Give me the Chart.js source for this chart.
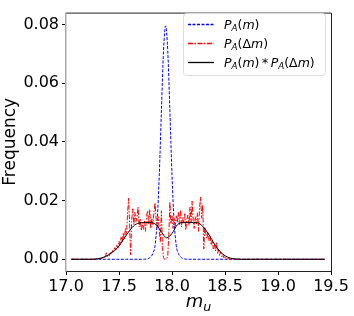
<!DOCTYPE html>
<html>
<head>
<meta charset="utf-8">
<script src="https://cdn.jsdelivr.net/npm/chart.js@4"></script>
<style>
  body { margin: 0; background: #fff; }
</style>
</head>
<body>
<canvas id="freqChart" width="354" height="316"></canvas>
<script>
// tick labels
const xTicks = [17.0, 17.5, 18.0, 18.5, 19.0, 19.5];
const yTicks = [0.00, 0.02, 0.04, 0.06, 0.08];

const seriesLabels = ['P_A(m)', 'P_A(Δm)', 'P_A(m)*P_A(Δm)'];
const seriesColors = ['#0000ff', '#ff0000', '#000000'];

// P_A(m)
const blueX = [17.05, 17.74, 17.76, 17.78, 17.80, 17.82, 17.84, 17.86, 17.88, 17.90, 17.92, 17.94,
  17.96, 17.98, 18.00, 18.02, 18.04, 18.06, 18.08, 18.10, 18.12, 18.14, 19.44];
const blueY = [0, 0, 0.0001, 0.0003, 0.0008, 0.0020, 0.0047, 0.0130, 0.0287, 0.0505, 0.0710, 0.0795,
  0.0710, 0.0505, 0.0287, 0.0130, 0.0047, 0.0020, 0.0008, 0.0003, 0.0001, 0, 0];

// P_A(dm), sampled every 0.01 from 17.30 to 18.60
const redStart = 17.30;
const redStep = 0.01;
const redY = [
  0.0000, 0.0003, 0.0001, 0.0004, 0.0002, 0.0006, 0.0010, 0.0005, 0.0022, 0.0008,
  0.0015, 0.0012, 0.0025, 0.0018, 0.0030, 0.0026, 0.0042, 0.0031, 0.0050, 0.0038,
  0.0062, 0.0048, 0.0075, 0.0058, 0.0090, 0.0068, 0.0105, 0.0082, 0.0150, 0.0208,
  0.0120, 0.0015, 0.0135, 0.0172, 0.0118, 0.0160, 0.0128, 0.0145, 0.0178, 0.0110,
  0.0138, 0.0098, 0.0125, 0.0102, 0.0130, 0.0095, 0.0148, 0.0165, 0.0120, 0.0170,
  0.0105, 0.0140, 0.0118, 0.0160, 0.0192, 0.0135, 0.0108, 0.0145, 0.0095, 0.0060,
  0.0165, 0.0040, 0.0005, 0.0000, 0.0000, 0.0003, 0.0010, 0.0085, 0.0195, 0.0120,
  0.0150, 0.0105, 0.0138, 0.0112, 0.0148, 0.0125, 0.0160, 0.0118, 0.0168, 0.0110,
  0.0142, 0.0125, 0.0155, 0.0100, 0.0135, 0.0150, 0.0115, 0.0178, 0.0125, 0.0198,
  0.0130, 0.0105, 0.0145, 0.0120, 0.0158, 0.0095, 0.0175, 0.0212, 0.0140, 0.0185,
  0.0035, 0.0110, 0.0085, 0.0070, 0.0092, 0.0062, 0.0078, 0.0048, 0.0065, 0.0035,
  0.0052, 0.0028, 0.0058, 0.0020, 0.0032, 0.0012, 0.0025, 0.0008, 0.0015, 0.0005,
  0.0010, 0.0003, 0.0006, 0.0001, 0.0003, 0.0000, 0.0002, 0.0000, 0.0001, 0.0000,
  0.0000
];

// P_A(m)*P_A(dm)
const blackX = [17.05, 17.25, 17.30, 17.35, 17.40, 17.45, 17.50, 17.55, 17.60, 17.65, 17.70, 17.75,
  17.80, 17.85, 17.90, 17.95, 18.00, 18.05, 18.10, 18.15, 18.20, 18.25, 18.30, 18.35, 18.40, 18.45,
  18.50, 18.55, 18.60, 18.65, 19.44];
const blackY = [0, 0, 0.0002, 0.0006, 0.0015, 0.0028, 0.0045, 0.0072, 0.0098, 0.0117, 0.0124, 0.0125,
  0.0125, 0.0118, 0.0093, 0.0073, 0.0088, 0.0117, 0.0125, 0.0125, 0.0125, 0.0123, 0.0108, 0.0083, 0.0052, 0.0028,
  0.0012, 0.0004, 0.0001, 0, 0];

const bluePts = blueX.map((x, i) => ({ x: x, y: blueY[i] }));
const redPts = [{ x: 17.05, y: 0 }]
  .concat(redY.map((v, i) => ({ x: redStart + i * redStep, y: v })))
  .concat([{ x: 19.44, y: 0 }]);
const blackPts = blackX.map((x, i) => ({ x: x, y: blackY[i] }));

// mathtext-ish drawing: letters italic, '_' makes next char a subscript
function mathParts(str) {
  const parts = [];
  for (let i = 0; i < str.length; i++) {
    const c = str[i];
    if (c === '_') { parts.push({ t: str[i + 1], sub: true, it: true }); i++; }
    else if (c === '*') parts.push({ t: '\u2009*\u2009', it: false });
    else parts.push({ t: c, it: /[a-zA-Z]/.test(c) });
  }
  return parts;
}

function drawMath(ctx, str, x, y, size, align) {
  const parts = mathParts(str);
  const fam = '"DejaVu Sans", sans-serif';
  const fontFor = p => (p.it ? 'italic ' : '') + (p.sub ? size * 0.7 : size) + 'px ' + fam;
  let w = 0;
  parts.forEach(p => { ctx.font = fontFor(p); w += ctx.measureText(p.t).width; });
  let cx = align === 'center' ? x - w / 2 : x;
  ctx.textAlign = 'left';
  ctx.textBaseline = 'alphabetic';
  ctx.fillStyle = '#000';
  parts.forEach(p => {
    ctx.font = fontFor(p);
    const dy = p.sub ? size * 0.22 : 0;
    ctx.fillText(p.t, cx, y + dy);
    cx += ctx.measureText(p.t).width;
  });
}

const decorPlugin = {
  id: 'decor',
  afterDraw(chart) {
    const ctx = chart.ctx;
    const a = chart.chartArea;
    ctx.save();
    // frame
    ctx.lineWidth = 1;
    ctx.strokeStyle = '#222';
    ctx.beginPath();
    ctx.moveTo(a.left, a.top + 0.5);
    ctx.lineTo(a.right + 0.5, a.top + 0.5);
    ctx.lineTo(a.right + 0.5, a.bottom + 0.5);
    ctx.lineTo(a.left, a.bottom + 0.5);
    ctx.stroke();
    ctx.strokeStyle = '#aaa';
    ctx.lineWidth = 1.5;
    ctx.beginPath();
    ctx.moveTo(a.left - 0.25, a.top);
    ctx.lineTo(a.left - 0.25, a.bottom + 1);
    ctx.stroke();

    // x axis title
    drawMath(ctx, 'm_u', (a.left + a.right) / 2, 307, 18, 'center');

    // legend
    const bx = 183, by = 13, bw = 142, bh = 62;
    ctx.fillStyle = 'rgba(255,255,255,0.8)';
    ctx.strokeStyle = '#ddd';
    ctx.lineWidth = 1;
    ctx.beginPath();
    ctx.roundRect(bx + 0.5, by + 0.5, bw, bh, 3);
    ctx.fill();
    ctx.stroke();
    const rows = [24, 43, 62];
    chart.data.datasets.forEach((ds, i) => {
      const ry = rows[i];
      ctx.strokeStyle = seriesColors[i];
      ctx.lineWidth = 1.3;
      ctx.setLineDash(ds.borderDash || []);
      ctx.beginPath();
      ctx.moveTo(188, ry + 0.5);
      ctx.lineTo(214, ry + 0.5);
      ctx.stroke();
      ctx.setLineDash([]);
      drawMath(ctx, seriesLabels[i], 224, ry + 4.5, 12.5, 'left');
    });
    ctx.restore();
  }
};

const tickFont = { family: '"DejaVu Sans", sans-serif', size: 16 };

new Chart(document.getElementById('freqChart').getContext('2d'), {
  type: 'line',
  data: {
    datasets: [
      {
        label: seriesLabels[0],
        data: bluePts,
        borderColor: seriesColors[0],
        borderWidth: 1,
        borderDash: [3, 1.5],
        pointRadius: 0,
        cubicInterpolationMode: 'monotone',
        order: 2
      },
      {
        label: seriesLabels[1],
        data: redPts,
        borderColor: seriesColors[1],
        borderWidth: 1,
        borderDash: [5, 1.5, 1.5, 1.5],
        pointRadius: 0,
        order: 1
      },
      {
        label: seriesLabels[2],
        data: blackPts,
        borderColor: seriesColors[2],
        borderWidth: 1,
        pointRadius: 0,
        cubicInterpolationMode: 'monotone',
        order: 0
      }
    ]
  },
  options: {
    responsive: false,
    animation: false,
    layout: { padding: { top: 7, right: 23, left: 0, bottom: 0 } },
    plugins: {
      legend: { display: false },
      tooltip: { enabled: false }
    },
    scales: {
      x: {
        type: 'linear',
        min: 17.0,
        max: 19.5,
        afterBuildTicks: axis => { axis.ticks = xTicks.map(v => ({ value: v })); },
        afterFit: axis => { axis.height = 45; },
        ticks: {
          font: tickFont,
          color: '#000',
          padding: 2,
          maxRotation: 0,
          callback: v => Number(v).toFixed(1)
        },
        grid: { drawOnChartArea: false, tickLength: 4, tickColor: '#000' },
        border: { display: false }
      },
      y: {
        min: -0.004,
        max: 0.084,
        afterBuildTicks: axis => { axis.ticks = yTicks.map(v => ({ value: v })); },
        afterFit: axis => { axis.width = 66; },
        ticks: {
          font: tickFont,
          color: '#000',
          padding: 3,
          callback: v => Number(v).toFixed(2)
        },
        grid: { drawOnChartArea: false, tickLength: 4, tickColor: '#000' },
        border: { display: false },
        title: {
          display: true,
          text: 'Frequency',
          color: '#000',
          font: { family: '"DejaVu Sans", sans-serif', size: 17 },
          padding: { top: 0, bottom: 0 }
        }
      }
    }
  },
  plugins: [decorPlugin]
});
</script>
</body>
</html>
